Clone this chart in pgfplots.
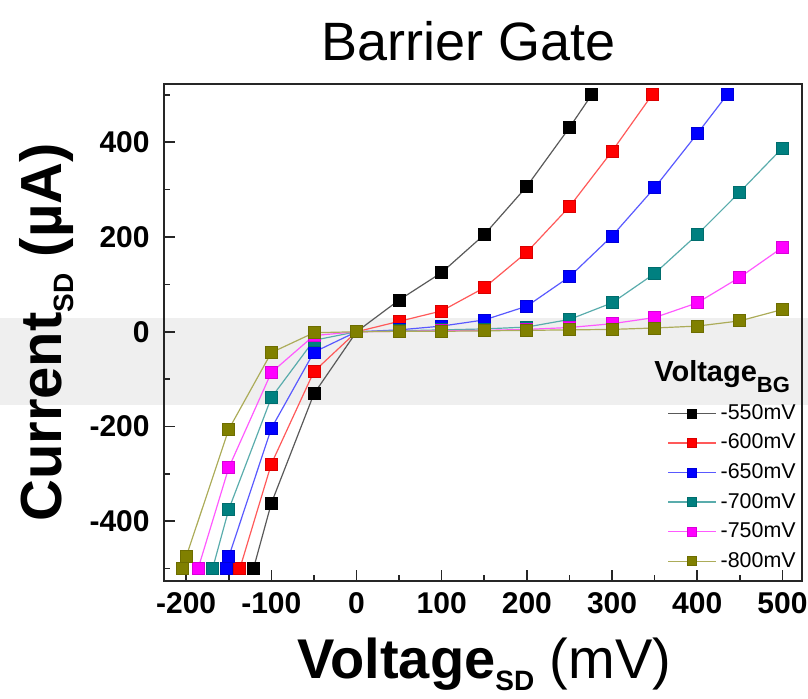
\documentclass[border=0pt]{standalone}
\usepackage{fontspec}
\setmainfont{Liberation Sans}
\usepackage{pgfplots}
\pgfplotsset{compat=1.18}

\definecolor{cblack}{HTML}{000000}
\definecolor{cred}{HTML}{FF0000}
\definecolor{cblue}{HTML}{0000FF}
\definecolor{cteal}{HTML}{008080}
\definecolor{cmag}{HTML}{FF00FF}
\definecolor{colive}{HTML}{808000}
\definecolor{band}{HTML}{EFEFEF}

% one style for every gate voltage: light line, solid square
\pgfplotsset{
  ser/.style={line width=0.6pt, color=#1!65!white, mark=square*, mark size=3pt,
    mark options={fill=#1, draw=#1!85!black, line width=0.4pt}},
}

\begin{document}
\begin{tikzpicture}
\begin{axis}[name=ax,
  set layers, clip=false,
  scale only axis, width=319pt, height=248.5pt,
  xmin=-226, xmax=523, ymin=-526, ymax=523,
  xtick={-200,-100,...,500}, minor xtick={-150,-50,...,450},
  ytick={-400,-200,...,400}, minor ytick={-500,-300,...,500},
  xtick pos=bottom, ytick pos=left, tick align=inside,
  major tick length=5.5pt, minor tick length=3pt,
  every tick/.style={line width=0.8pt, black!85},
  axis line style={line width=1pt, black!85},
  /pgf/number format/assume math mode=true,
  tick label style={font=\fontsize{15}{15}\selectfont\bfseries},
  xticklabel style={anchor=north, inner sep=0pt, yshift=-5.5pt},
  yticklabel style={anchor=east, inner sep=0pt, xshift=-7pt},
  legend style={draw=none, fill=none, inner sep=0pt, at={(1,0.358)}, anchor=north east,
    xshift=-2.5pt, row sep=4.8pt, column sep=1.5pt, nodes={inner sep=0.5pt},
    font=\fontsize{10.7}{12}\selectfont},
  legend cell align=left,
  legend image code/.code={
    \draw[#1, mark=none] (0pt,0pt) -- (24pt,0pt);
    \draw[#1, mark size=2.25pt] plot coordinates {(12pt,0pt)};},
]
\begin{pgfonlayer}{axis background}
  \fill[band] (axis cs:-440,29) rectangle (axis cs:560,-155);
\end{pgfonlayer}

\addplot[ser=cblack] coordinates {(-121,-500)(-100,-362)(-50,-131)(0,0)(50,67)(100,125)(150,205)(200,307)(250,431)(276,500)};
\addlegendentry{-550mV}
\addplot[ser=cred] coordinates {(-137,-500)(-100,-279)(-50,-84)(0,0)(50,22)(100,44)(150,93)(200,168)(250,264)(300,381)(347,500)};
\addlegendentry{-600mV}
\addplot[ser=cblue] coordinates {(-153,-500)(-150,-475)(-100,-204)(-50,-43)(0,0)(50,4)(100,12)(150,25)(200,54)(250,116)(300,202)(350,304)(400,418)(435,500)};
\addlegendentry{-650mV}
\addplot[ser=cteal] coordinates {(-169,-500)(-150,-375)(-100,-139)(-50,-18)(0,0)(50,2)(100,4)(150,6)(200,10)(250,26)(300,61)(350,123)(400,205)(450,295)(500,388)};
\addlegendentry{-700mV}
\addplot[ser=cmag] coordinates {(-186,-500)(-150,-287)(-100,-86)(-50,-8)(0,0)(50,1)(100,2)(150,3)(200,5)(250,9)(300,17)(350,30)(400,61)(450,115)(500,178)};
\addlegendentry{-750mV}
\addplot[ser=colive] coordinates {(-204,-500)(-200,-475)(-150,-206)(-100,-44)(-50,-2)(0,0)(50,1)(100,1)(150,2)(200,3)(250,4)(300,5)(350,8)(400,12)(450,23)(500,47)};
\addlegendentry{-800mV}

\node[anchor=base east, font=\fontsize{14.5}{14.5}\selectfont\bfseries]
  at ([xshift=-2.5pt]rel axis cs:1,0.401) {Voltage\raisebox{-5.5pt}{\fontsize{11}{11}\selectfont BG}};
\node[anchor=base, font=\fontsize{27}{27}\selectfont]
  at ([yshift=11.5pt]rel axis cs:0.478,1) {Barrier Gate};
\node[anchor=base, font=\fontsize{28}{28}\selectfont]
  at ([yshift=-49pt]rel axis cs:0.502,0) {\textbf{Voltage}\raisebox{-6pt}{\fontsize{14}{14}\selectfont\bfseries SD} (mV)};
\node[rotate=90, anchor=base, font=\fontsize{29}{29}\selectfont\bfseries]
  at ([xshift=-51pt]rel axis cs:0,0.5) {Current\raisebox{-6pt}{\fontsize{14}{14}\selectfont SD} (µA)};
\end{axis}
\pgfresetboundingbox
\path[use as bounding box] ([xshift=-82pt,yshift=-59pt]ax.south west) rectangle ([xshift=3pt,yshift=42pt]ax.north east);
\end{tikzpicture}
\end{document}
